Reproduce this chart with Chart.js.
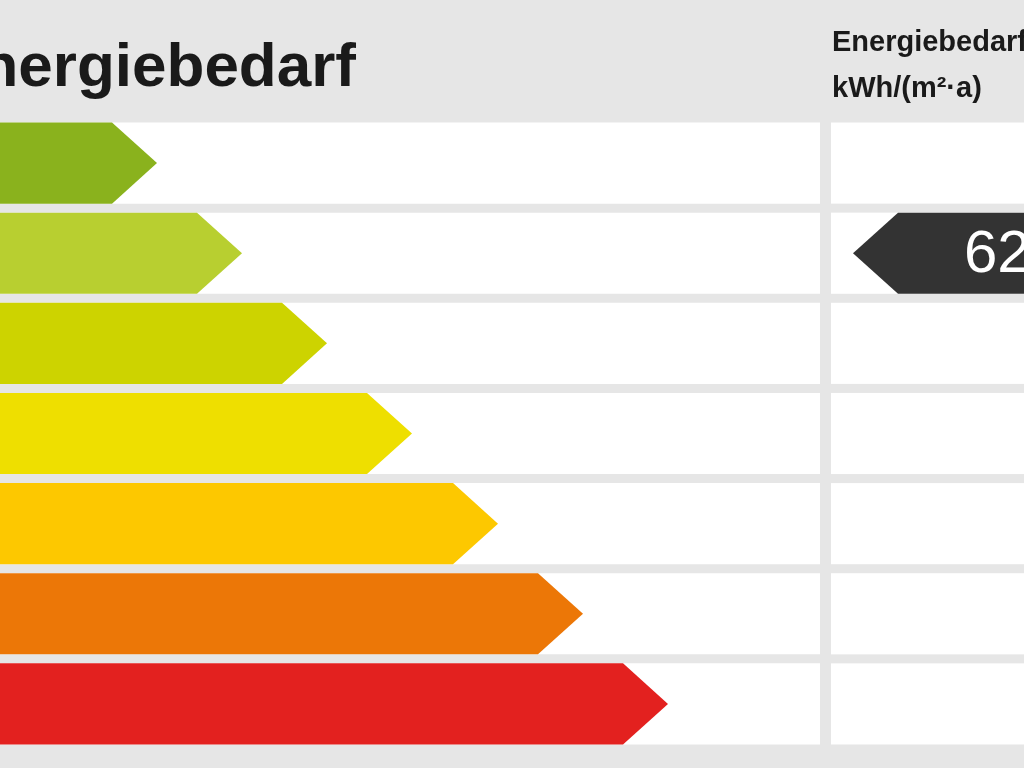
<!DOCTYPE html>
<html><head><meta charset="utf-8">
<script src="https://cdn.jsdelivr.net/npm/chart.js@4"></script>
<style>html,body{margin:0;padding:0;background:#e6e6e6;}#w{width:1024px;height:768px;}</style>
</head><body><div id="w"><canvas id="c"></canvas></div>
<script>
const classes = ["A+","A","B","C","D","E","F"];
const classEnds = [157,242,327,412,498,583,668];
const classColors = ["#8ab21d","#b8cf30","#cdd300","#eedf00","#fdc800","#ec7707","#e3211f"];
const rowFull = [820,820,820,820,820,820,820];
const markerClass = "A";
const markerValue = "62";
const titleText = "Energiebedarf";
const headerLines = ["Energiebedarf","kWh/(m²·a)"];

const arrowPlugin = {
  id:'arrows',
  afterDatasetsDraw(chart){
    const ctx = chart.ctx;
    const meta = chart.getDatasetMeta(1);
    const ys = chart.scales.y;
    ctx.save();
    meta.data.forEach((el,i)=>{
      const h = el.height, top = el.y - h/2, bot = el.y + h/2;
      const tip = el.x, body = tip - 45;
      ctx.fillStyle = classColors[i];
      ctx.beginPath();
      ctx.moveTo(-10,top); ctx.lineTo(body,top); ctx.lineTo(tip,el.y);
      ctx.lineTo(body,bot); ctx.lineTo(-10,bot); ctx.closePath(); ctx.fill();
      // right column strip
      ctx.fillStyle = "#ffffff";
      ctx.fillRect(831, top, 200, h);
    });
    // marker
    const mi = classes.indexOf(markerClass);
    const el = meta.data[mi];
    const h = el.height, top = el.y - h/2, bot = el.y + h/2;
    ctx.fillStyle = "#333333";
    ctx.beginPath();
    ctx.moveTo(853,el.y); ctx.lineTo(898,top); ctx.lineTo(1030,top); ctx.lineTo(1030,bot); ctx.lineTo(898,bot); ctx.closePath(); ctx.fill();
    ctx.fillStyle = "#ffffff";
    ctx.font = "60px 'Liberation Sans', Arial, sans-serif";
    ctx.textBaseline = "middle"; ctx.textAlign = "left";
    ctx.fillText(markerValue, 964, el.y + 2);
    // title
    ctx.fillStyle = "#1a1a1a";
    ctx.textBaseline = "alphabetic";
    ctx.textAlign = "right";
    ctx.font = "bold 62px 'Liberation Sans', Arial, sans-serif";
    ctx.fillText(titleText, 356, 86);
    ctx.textAlign = "left";
    ctx.font = "bold 29px 'Liberation Sans', Arial, sans-serif";
    ctx.fillText(headerLines[0], 832, 51);
    ctx.fillText(headerLines[1], 832, 97);
    ctx.restore();
  }
};

new Chart(document.getElementById('c'),{
  type:'bar',
  data:{labels:classes,datasets:[
    {data:rowFull,backgroundColor:"#ffffff",barPercentage:0.9,categoryPercentage:1,grouped:false},
    {data:classEnds,backgroundColor:"rgba(0,0,0,0)",barPercentage:0.9,categoryPercentage:1,grouped:false}
  ]},
  options:{
    indexAxis:'y',responsive:true,maintainAspectRatio:false,animation:false,
    layout:{padding:{left:0,right:204,top:118,bottom:19}},
    scales:{x:{display:false,min:0,max:820},y:{display:false}},
    plugins:{legend:{display:false},tooltip:{enabled:false}}
  },
  plugins:[arrowPlugin]
});
</script></body></html>
